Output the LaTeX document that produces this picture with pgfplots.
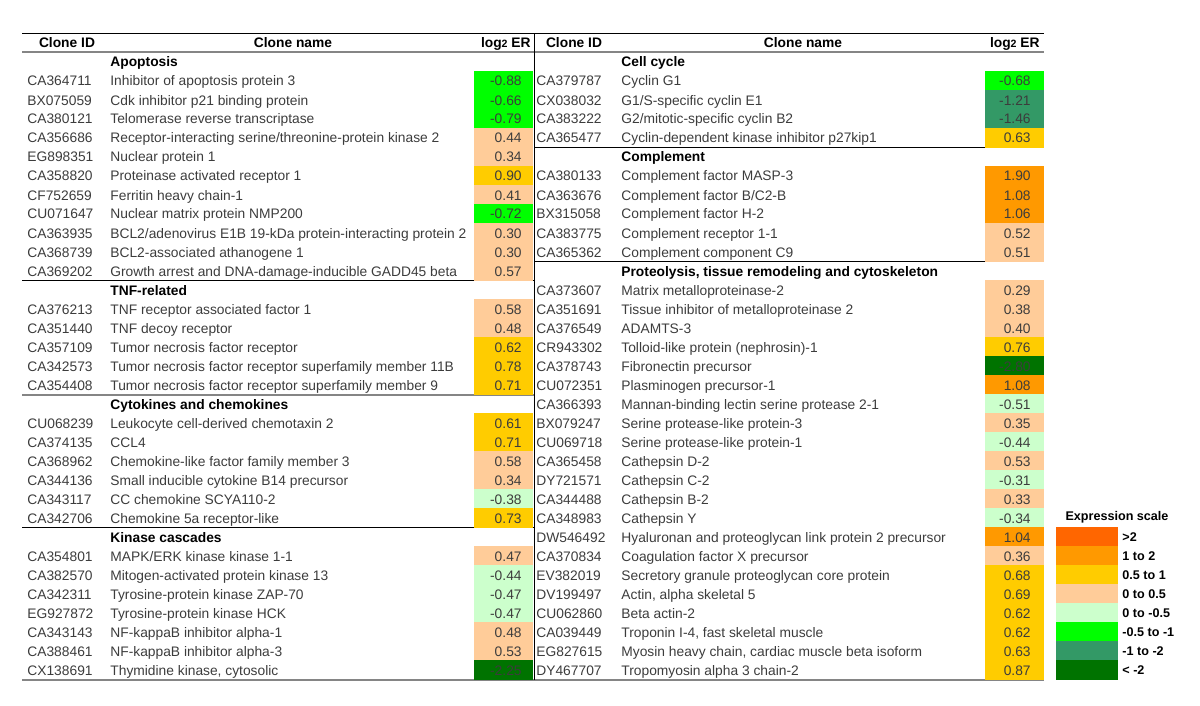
\documentclass[border=0pt]{standalone}
\usepackage{fontspec}
\setmainfont{Liberation Sans}
\usepackage{pgfplots}
\usepackage{pgfplotstable}
\pgfplotsset{compat=1.18}
\definecolor{cA}{HTML}{FF6600}
\definecolor{cB}{HTML}{FF9900}
\definecolor{cC}{HTML}{FFCC00}
\definecolor{cD}{HTML}{FFCC99}
\definecolor{cE}{HTML}{CCFFCC}
\definecolor{cF}{HTML}{00FF00}
\definecolor{cG}{HTML}{339966}
\definecolor{cH}{HTML}{007300}
\definecolor{txt}{HTML}{3C3C3C}
\definecolor{rule}{HTML}{858585}
\newcommand\tbl{\fontsize{6.9}{8}\selectfont}
\newcommand\lgd{\fontsize{6.3}{7.5}\selectfont}
\pgfdeclareplotmark{cell}{\pgfpathrectangle{\pgfpoint{-14.75pt}{-4.8pt}}{\pgfpoint{29.5pt}{9.6pt}}\pgfusepathqfill}
\pgfdeclareplotmark{lbox}{\pgfpathrectangle{\pgfpoint{-15.5pt}{-4.8pt}}{\pgfpoint{31pt}{9.6pt}}\pgfusepathqfill}

\pgfplotstableread[col sep=semicolon,row sep=\\]{
r;id;name;v;c\\
2;CA364711;Inhibitor of apoptosis protein 3;-0.88;f\\
3;BX075059;Cdk inhibitor p21 binding protein;-0.66;f\\
4;CA380121;Telomerase reverse transcriptase;-0.79;f\\
5;CA356686;Receptor-interacting serine/threonine-protein kinase 2;0.44;d\\
6;EG898351;Nuclear protein 1;0.34;d\\
7;CA358820;Proteinase activated receptor 1;0.90;c\\
8;CF752659;Ferritin heavy chain-1;0.41;d\\
9;CU071647;Nuclear matrix protein NMP200;-0.72;f\\
10;CA363935;BCL2/adenovirus E1B 19-kDa protein-interacting protein 2;0.30;d\\
11;CA368739;BCL2-associated athanogene 1;0.30;d\\
12;CA369202;Growth arrest and DNA-damage-inducible GADD45 beta;0.57;d\\
14;CA376213;TNF receptor associated factor 1;0.58;d\\
15;CA351440;TNF decoy receptor;0.48;d\\
16;CA357109;Tumor necrosis factor receptor;0.62;c\\
17;CA342573;Tumor necrosis factor receptor superfamily member 11B;0.78;c\\
18;CA354408;Tumor necrosis factor receptor superfamily member 9;0.71;c\\
20;CU068239;Leukocyte cell-derived chemotaxin 2;0.61;c\\
21;CA374135;CCL4;0.71;c\\
22;CA368962;Chemokine-like factor family member 3;0.58;d\\
23;CA344136;Small inducible cytokine B14 precursor;0.34;d\\
24;CA343117;CC chemokine SCYA110-2;-0.38;e\\
25;CA342706;Chemokine 5a receptor-like;0.73;c\\
27;CA354801;MAPK/ERK kinase kinase 1-1;0.47;d\\
28;CA382570;Mitogen-activated protein kinase 13;-0.44;e\\
29;CA342311;Tyrosine-protein kinase ZAP-70;-0.47;e\\
30;EG927872;Tyrosine-protein kinase HCK;-0.47;e\\
31;CA343143;NF-kappaB inhibitor alpha-1;0.48;d\\
32;CA388461;NF-kappaB inhibitor alpha-3;0.53;d\\
33;CX138691;Thymidine kinase, cytosolic;-2.25;h\\
}\leftdata

\pgfplotstableread[col sep=semicolon,row sep=\\]{
r;id;name;v;c\\
2;CA379787;Cyclin G1;-0.68;f\\
3;CX038032;G1/S-specific cyclin E1;-1.21;g\\
4;CA383222;G2/mitotic-specific cyclin B2;-1.46;g\\
5;CA365477;Cyclin-dependent kinase inhibitor p27kip1;0.63;c\\
7;CA380133;Complement factor MASP-3;1.90;b\\
8;CA363676;Complement factor B/C2-B;1.08;b\\
9;BX315058;Complement factor H-2;1.06;b\\
10;CA383775;Complement receptor 1-1;0.52;d\\
11;CA365362;Complement component C9;0.51;d\\
13;CA373607;Matrix metalloproteinase-2;0.29;d\\
14;CA351691;Tissue inhibitor of metalloproteinase 2;0.38;d\\
15;CA376549;ADAMTS-3;0.40;d\\
16;CR943302;Tolloid-like protein (nephrosin)-1;0.76;c\\
17;CA378743;Fibronectin precursor;-2.80;h\\
18;CU072351;Plasminogen precursor-1;1.08;b\\
19;CA366393;Mannan-binding lectin serine protease 2-1;-0.51;e\\
20;BX079247;Serine protease-like protein-3;0.35;d\\
21;CU069718;Serine protease-like protein-1;-0.44;e\\
22;CA365458;Cathepsin D-2;0.53;d\\
23;DY721571;Cathepsin C-2;-0.31;e\\
24;CA344488;Cathepsin B-2;0.33;d\\
25;CA348983;Cathepsin Y;-0.34;e\\
26;DW546492;Hyaluronan and proteoglycan link protein 2 precursor;1.04;b\\
27;CA370834;Coagulation factor X precursor;0.36;d\\
28;EV382019;Secretory granule proteoglycan core protein;0.68;c\\
29;DV199497;Actin, alpha skeletal 5;0.69;c\\
30;CU062860;Beta actin-2;0.62;c\\
31;CA039449;Troponin I-4, fast skeletal muscle;0.62;c\\
32;EG827615;Myosin heavy chain, cardiac muscle beta isoform;0.63;c\\
33;DY467707;Tropomyosin alpha 3 chain-2;0.87;c\\
}\rightdata

\pgfplotstableread[col sep=semicolon,row sep=\\]{
r;name\\
1;Apoptosis\\
13;TNF-related\\
19;Cytokines and chemokines\\
26;Kinase cascades\\
}\leftsec

\pgfplotstableread[col sep=semicolon,row sep=\\]{
r;name\\
1;Cell cycle\\
6;Complement\\
12;Proteolysis, tissue remodeling and cytoskeleton\\
}\rightsec

\pgfplotstableread[col sep=semicolon,row sep=\\]{
r;lab;c\\
26;>2;a\\
27;1 to 2;b\\
28;0.5 to 1;c\\
29;0 to 0.5;d\\
30;0 to -0.5;e\\
31;-0.5 to -1;f\\
32;-1 to -2;g\\
33;< -2;h\\
}\legdata

\pgfplotsset{
  txtplot/.style={draw=none, mark=none, point meta=explicit symbolic,
    nodes near coords,
    nodes near coords style={inner sep=0pt, font=\tbl, text=txt, anchor=base #1, yshift=-2.5pt}},
  cellplot/.style={scatter, only marks, mark=#1, point meta=explicit symbolic,
    scatter/classes={a={mark=#1,color=cA}, b={mark=#1,color=cB}, c={mark=#1,color=cC},
      d={mark=#1,color=cD}, e={mark=#1,color=cE}, f={mark=#1,color=cF},
      g={mark=#1,color=cG}, h={mark=#1,color=cH}}},
  thinrule/.style={black, line width=0.5pt, mark=none},
  thickrule/.style={rule, line width=1pt, mark=none},
}

\begin{document}
\begin{tikzpicture}
\begin{axis}[scale only axis, width=600pt, height=353pt,
  xmin=0, xmax=1200, ymin=0, ymax=706, y dir=reverse,
  hide axis, clip=false]
\addplot[draw=none, mark=none, forget plot] coordinates {(0,0) (1200,706)};
% rules
\addplot[thinrule] coordinates {(22,33.5) (1044,33.5)};
\addplot[thickrule] coordinates {(22,52.5) (1044,52.5)};
\addplot[thinrule] coordinates {(22,280.5) (534,280.5)};
\addplot[thickrule] coordinates {(22,394.5) (534,394.5)};
\addplot[thinrule] coordinates {(22,527.5) (534,527.5)};
\addplot[thinrule] coordinates {(534,147.5) (1044,147.5)};
\addplot[thinrule] coordinates {(534,261.5) (1044,261.5)};
\addplot[thickrule] coordinates {(22,679.5) (1044,679.5)};
\addplot[thinrule] coordinates {(534,33.5) (534,679.5)};
% coloured cells
\addplot[cellplot=cell] table[x expr=503.5, y expr=43+19*\thisrow{r}, meta=c]{\leftdata};
\addplot[cellplot=cell] table[x expr=1014.5, y expr=43+19*\thisrow{r}, meta=c]{\rightdata};
\addplot[cellplot=lbox] table[x expr=1087, y expr=43+19*\thisrow{r}, meta=c]{\legdata};
% left table text
\addplot[txtplot=west] table[x expr=27, y expr=43+19*\thisrow{r}, meta=id]{\leftdata};
\addplot[txtplot=west] table[x expr=110, y expr=43+19*\thisrow{r}, meta=name]{\leftdata};
\addplot[txtplot=east] table[x expr=522, y expr=43+19*\thisrow{r}, meta=v]{\leftdata};
\addplot[txtplot=west, nodes near coords style={font=\tbl\bfseries, text=black}] table[x expr=110, y expr=43+19*\thisrow{r}, meta=name]{\leftsec};
% right table text
\addplot[txtplot=west] table[x expr=536, y expr=43+19*\thisrow{r}, meta=id]{\rightdata};
\addplot[txtplot=west] table[x expr=621, y expr=43+19*\thisrow{r}, meta=name]{\rightdata};
\addplot[txtplot=east] table[x expr=1031, y expr=43+19*\thisrow{r}, meta=v]{\rightdata};
\addplot[txtplot=west, nodes near coords style={font=\tbl\bfseries, text=black}] table[x expr=621, y expr=43+19*\thisrow{r}, meta=name]{\rightsec};
% legend labels
\addplot[txtplot=west, nodes near coords style={font=\lgd\bfseries, text=black, yshift=0.25pt}] table[x expr=1122, y expr=43+19*\thisrow{r}, meta=lab]{\legdata};
% headers
\node[font=\tbl\bfseries, anchor=base, inner sep=0pt] at (axis cs:67,48) {Clone ID};
\node[font=\tbl\bfseries, anchor=base, inner sep=0pt] at (axis cs:293,48) {Clone name};
\node[font=\tbl\bfseries, anchor=base east, inner sep=0pt] at (axis cs:531,48) {log{\fontsize{5.3}{6}\selectfont 2} ER};
\node[font=\tbl\bfseries, anchor=base, inner sep=0pt] at (axis cs:574,48) {Clone ID};
\node[font=\tbl\bfseries, anchor=base, inner sep=0pt] at (axis cs:803,48) {Clone name};
\node[font=\tbl\bfseries, anchor=base east, inner sep=0pt] at (axis cs:1040,48) {log{\fontsize{5.3}{6}\selectfont 2} ER};
\node[font=\lgd\bfseries, anchor=base, inner sep=0pt] at (axis cs:1117,520) {Expression scale};
\end{axis}
\end{tikzpicture}
\end{document}
